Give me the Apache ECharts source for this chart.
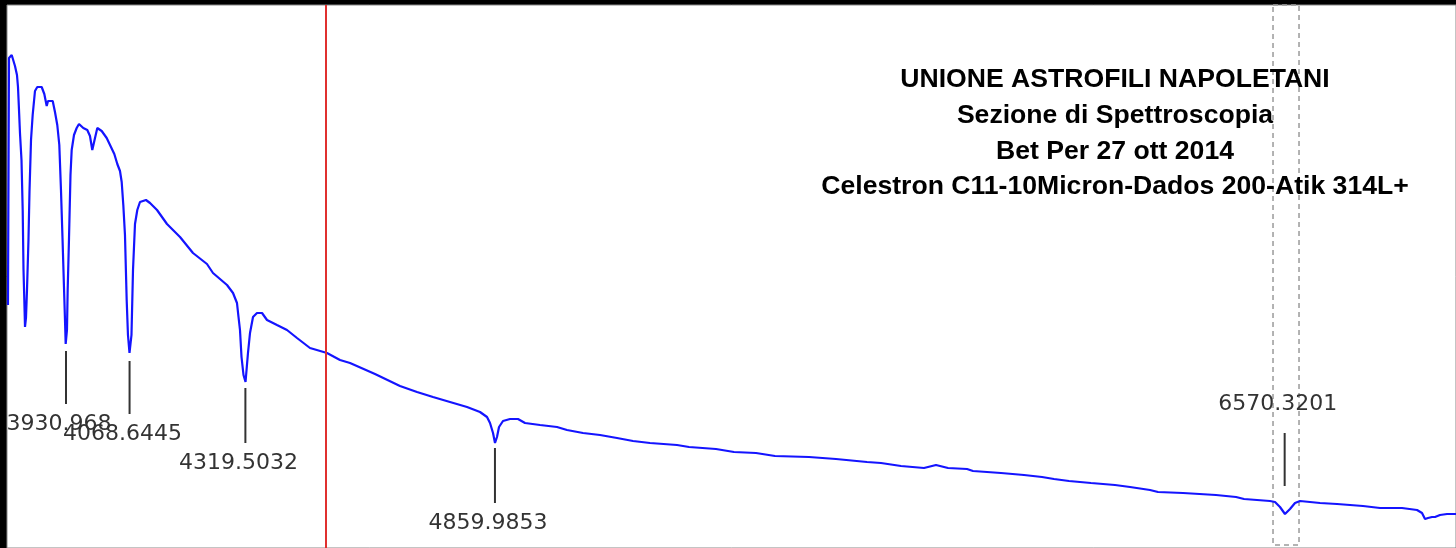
<!DOCTYPE html>
<html>
<head>
<meta charset="utf-8">
<script src="https://cdn.jsdelivr.net/npm/echarts@6/dist/echarts.min.js"></script>
<style>html,body{margin:0;padding:0;background:#000;}#c{width:1456px;height:548px;}</style>
</head>
<body>
<div id="c"></div>
<script>
// Wavelength (Angstrom) and relative flux
const wavelength = [3805.3,3807.5,3813.4,3820.5,3824.8,3827.0,3829.2,3831.3,3834.6,3837.2,3838.9,3840.7,3842.2,3844.3,3846.5,3849.7,3851.9,3855.2,3858.8,3863.8,3868.8,3878.3,3884.0,3889.2,3892.0,3896.3,3902.2,3907.1,3912.1,3916.5,3920.1,3923.4,3926.6,3928.8,3930.3,3933.1,3934.6,3937.5,3940.7,3943.3,3948.3,3954.1,3959.1,3968.4,3977.1,3982.9,3987.9,3993.8,3998.8,4008.3,4019.1,4028.4,4035.6,4042.1,4047.9,4051.6,4055.1,4058.7,4062.4,4065.2,4068.5,4072.8,4076.1,4080.4,4085.4,4091.2,4104.2,4112.9,4128.1,4149.7,4177.9,4206.0,4236.3,4249.3,4279.7,4292.7,4301.3,4304.6,4307.8,4311.1,4315.4,4319.8,4325.1,4329.5,4336.0,4344.6,4355.5,4366.3,4387.9,4409.6,4431.3,4459.4,4496.2,4524.4,4546.1,4600.2,4654.3,4691.2,4725.8,4762.6,4799.5,4827.6,4842.8,4849.3,4855.8,4860.1,4864.4,4868.8,4877.4,4892.6,4909.9,4925.1,4957.6,4994.4,5016.0,5050.7,5087.5,5124.3,5159.0,5195.8,5254.3,5280.3,5338.7,5377.7,5425.4,5466.5,5540.2,5598.6,5665.8,5696.1,5739.4,5789.2,5815.2,5841.2,5882.4,5895.3,5956.0,6005.8,6044.8,6070.8,6103.3,6150.9,6202.9,6235.4,6278.7,6296.0,6350.2,6421.6,6465.0,6482.3,6538.6,6549.4,6560.2,6571.0,6581.9,6592.7,6603.6,6646.9,6683.7,6740.0,6776.8,6824.5,6857.0,6867.8,6874.3,6880.8,6889.4,6895.9,6906.8,6922.0,6941.4];
const flux = [0.486,0.980,0.986,0.964,0.946,0.922,0.876,0.830,0.776,0.676,0.558,0.496,0.442,0.460,0.516,0.616,0.712,0.816,0.866,0.914,0.922,0.922,0.908,0.884,0.894,0.898,0.894,0.872,0.846,0.806,0.716,0.620,0.522,0.456,0.408,0.436,0.516,0.620,0.746,0.796,0.826,0.840,0.848,0.840,0.836,0.824,0.796,0.820,0.840,0.834,0.820,0.802,0.788,0.768,0.754,0.732,0.686,0.626,0.496,0.426,0.390,0.426,0.556,0.648,0.676,0.692,0.696,0.690,0.676,0.648,0.622,0.590,0.568,0.550,0.526,0.510,0.490,0.462,0.436,0.382,0.346,0.332,0.390,0.430,0.462,0.470,0.470,0.456,0.446,0.436,0.420,0.400,0.390,0.376,0.370,0.348,0.324,0.312,0.302,0.292,0.282,0.272,0.262,0.250,0.230,0.210,0.222,0.242,0.254,0.258,0.258,0.250,0.246,0.242,0.236,0.230,0.226,0.220,0.214,0.210,0.206,0.202,0.198,0.192,0.190,0.184,0.182,0.178,0.172,0.170,0.164,0.160,0.166,0.160,0.158,0.154,0.150,0.146,0.142,0.138,0.134,0.130,0.126,0.122,0.116,0.112,0.110,0.106,0.102,0.098,0.094,0.092,0.082,0.068,0.078,0.090,0.094,0.090,0.088,0.084,0.080,0.080,0.076,0.070,0.058,0.060,0.062,0.062,0.066,0.068,0.068];

// Identified lines: wavelength, marker top/bottom flux, label side
const lineWavelengths = [3930.968, 4068.6445, 4319.5032, 4859.9853, 6570.3201];
const lineLabels = ['3930.968', '4068.6445', '4319.5032', '4859.9853', '6570.3201'];
const markerTop = [0.394, 0.374, 0.320, 0.200, 0.230];
const markerBottom = [0.288, 0.268, 0.210, 0.090, 0.124];
const labelSide = ['below', 'below', 'below', 'below', 'above'];

const cursorWavelength = 4494.4;
const windowRange = [6545.1, 6601.4];

const titleLines = ['UNIONE ASTROFILI NAPOLETANI', 'Sezione di Spettroscopia', 'Bet Per 27 ott 2014', 'Celestron C11-10Micron-Dados 200-Atik 314L+'];

const X_MIN = 3803.2, X_MAX = 6941.4, Y_MIN = 0, Y_MAX = 1.086;

const spectrum = wavelength.map((w, i) => [w, flux[i]]);
const markers = lineWavelengths.map((w, i) => [w, markerTop[i], markerBottom[i], i]);

const chart = echarts.init(document.getElementById('c'), null, {renderer: 'canvas'});
chart.setOption({
  animation: false,
  backgroundColor: '#000',
  title: {
    text: titleLines.join('\n'),
    left: 1110, top: 57, textAlign: 'center',
    textStyle: {fontFamily: 'Liberation Sans', fontWeight: 'bold', fontSize: 26.6, lineHeight: 35.7, color: '#000'}
  },
  grid: {left: 7, top: 5, right: 0, bottom: 0, show: true, backgroundColor: '#fff', borderColor: '#888', borderWidth: 1},
  xAxis: {type: 'value', min: X_MIN, max: X_MAX, show: false},
  yAxis: {type: 'value', min: Y_MIN, max: Y_MAX, show: false},
  series: [
    {
      type: 'line', data: spectrum, symbol: 'none', smooth: false,
      lineStyle: {color: '#1414ff', width: 2.2},
      markLine: {
        silent: true, symbol: 'none', label: {show: false},
        lineStyle: {color: '#e0302f', width: 2, type: 'solid'},
        data: [{xAxis: cursorWavelength}]
      },
      markArea: {
        silent: true,
        itemStyle: {color: 'rgba(0,0,0,0)', borderColor: '#9a9a9a', borderWidth: 1.5, borderType: [5, 4]},
        data: [[{xAxis: windowRange[0], yAxis: 1.092}, {xAxis: windowRange[1], yAxis: 0.006}]]
      }
    },
    {
      type: 'custom', data: markers, clip: false,
      renderItem: function (params, api) {
        const w = api.value(0), idx = api.value(3);
        const pTop = api.coord([w, api.value(1)]);
        const pBot = api.coord([w, api.value(2)]);
        const above = labelSide[idx] === 'above';
        const ty = above ? pTop[1] - 29 : pBot[1] + 20;
        return {
          type: 'group',
          children: [
            {type: 'line', shape: {x1: pTop[0], y1: pTop[1], x2: pBot[0], y2: pBot[1]}, style: {stroke: '#333', lineWidth: 2}},
            {type: 'text', x: pTop[0] - 7, y: ty, style: {text: lineLabels[idx], fill: '#333', font: '22px "DejaVu Sans"', align: 'center', verticalAlign: 'middle'}}
          ]
        };
      }
    }
  ]
});
</script>
</body>
</html>
